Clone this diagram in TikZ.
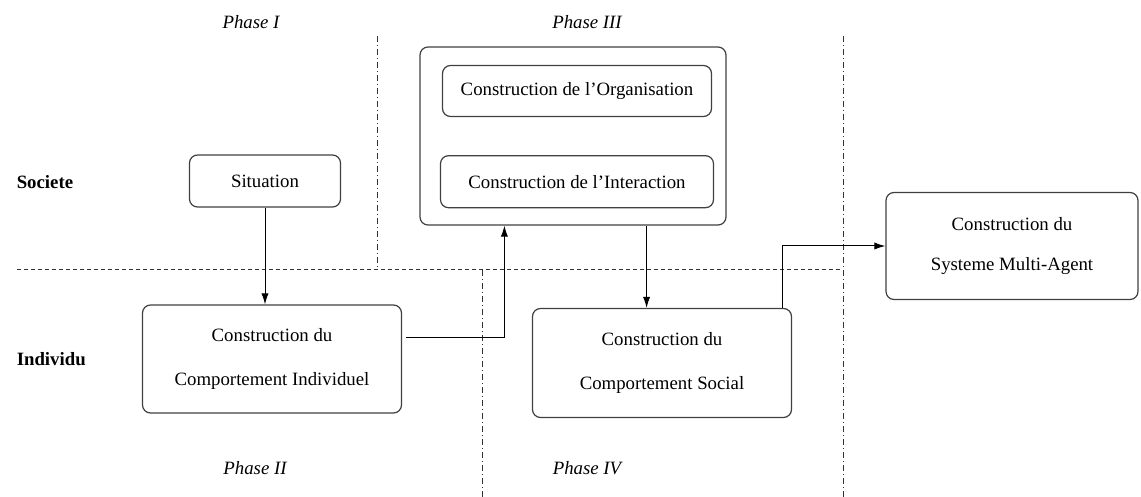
\documentclass[tikz,border=0pt]{standalone}
\usepackage{fontspec}
\setmainfont{Liberation Serif}
\usetikzlibrary{positioning,arrows.meta}

\begin{document}
\fontsize{9.4}{11}\selectfont
\begin{tikzpicture}[x=0.5pt,y=-0.5pt,
stage/.style={draw=black!75,line width=0.6pt,rounded corners=4pt,align=center},
phase/.style={font=\itshape},
layer/.style={font=\bfseries,anchor=west},
split/.style={black!80,line width=0.5pt,dash pattern=on 3pt off 1.5pt on 0.5pt off 1.5pt},
level/.style={black!80,line width=0.5pt,dash pattern=on 2pt off 1.5pt},
>={Latex[length=5.5pt,width=3.6pt]},line width=0.5pt]
\useasboundingbox (0,0) rectangle (1141,497);

\draw[level] (17,270) -- (843,270);
\draw[split] (377,36) -- (377,270);
\draw[split] (482,270) -- (482,497);
\draw[split] (843,36) -- (843,497);

\node[layer] (societe) at (10,182) {Societe};
\node[layer] (individu) at (10,359) {Individu};

\node[phase] (ph1) at (251,22) {Phase I};
\node[phase] (ph3) at (587,22) {Phase III};
\node[phase] (ph2) at (255,468) {Phase II};
\node[phase] (ph4) at (587,468) {Phase IV};

\node[stage,minimum width=75.5pt,minimum height=26pt] (sit) at (265,181) {Situation};
\node[stage,minimum width=129.5pt,minimum height=54pt] (indiv) at (272,359) {Construction du\\[11pt]Comportement Individuel};
\draw[->] (sit.south) -- (sit.south |- indiv.north);

\node[stage,minimum width=153pt,minimum height=89pt] (org3) at (573,136) {};
\node[stage,minimum width=134.5pt,minimum height=25.5pt] (orga) at (577,91) {Construction de l'Organisation};
\node[stage,minimum width=136.5pt,minimum height=26pt] (inter) [below=19pt of orga] {Construction de l'Interaction};
\draw[->] ([xshift=2pt,yshift=10.5pt]indiv.east) -| ([xshift=42.5pt]org3.south west);

\node[stage,minimum width=129.5pt,minimum height=54.5pt] (social) at (662,363) {Construction du\\[11pt]Comportement Social};
\coordinate (drop) at ([xshift=-40pt]org3.south east);
\draw[->] (drop) -- (drop |- social.north);

\node[stage,minimum width=126pt,minimum height=53.5pt] (mas) at (1012,246) {Construction du\\[9pt]Systeme Multi-Agent};
\draw[->] ([xshift=-5pt]social.north east) |- (mas.west);
\end{tikzpicture}
\end{document}
